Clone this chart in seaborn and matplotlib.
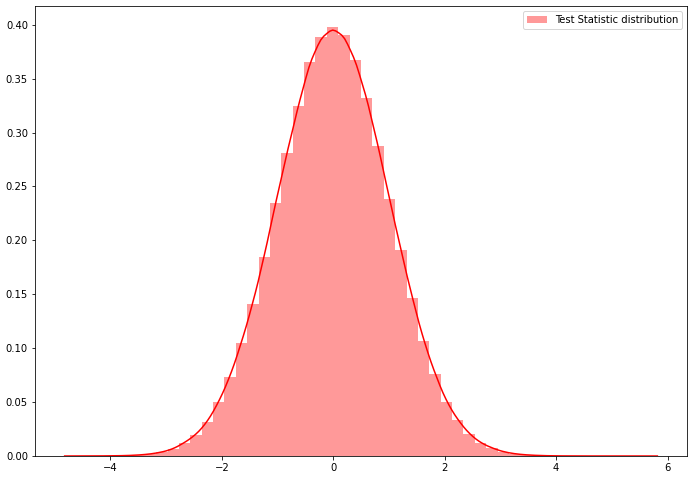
import numpy as np
import pandas as pd
import matplotlib
matplotlib.use("Agg")
import matplotlib.pyplot as plt
import seaborn as sns

# histogram of the test statistic: 50 equal bins between the sample min and max
data_min = -4.61
data_max = 5.605
n_bins = 50

# bar heights (density), left to right
bin_density = [
    0.00002, 0.00004, 0.0001, 0.0002, 0.0004, 0.0009, 0.0018, 0.0035, 0.0064, 0.0124,
    0.0195, 0.0313, 0.0498, 0.0733, 0.1049, 0.1411, 0.1847, 0.2348, 0.2812, 0.3248,
    0.3657, 0.3886, 0.3975, 0.3905, 0.3675, 0.3323, 0.2877, 0.2385, 0.1912, 0.1466,
    0.1067, 0.0761, 0.0501, 0.0334, 0.0204, 0.0121, 0.0074, 0.0038, 0.0020, 0.0010,
    0.0005, 0.0002, 0.0001, 0.00004, 0.00002, 0.00001, 0.000005, 0.000005, 0.000005, 0.000005,
]
label = "Test Statistic distribution"

edges = np.linspace(data_min, data_max, n_bins + 1)
df = pd.DataFrame({"stat": (edges[:-1] + edges[1:]) / 2, "density": bin_density})

fig = plt.figure(figsize=(696 / 72, 480 / 72), dpi=72)
ax = fig.add_axes([35 / 696, 24 / 480, 652 / 696, 450 / 480])

sns.histplot(data=df, x="stat", weights="density", bins=n_bins,
             binrange=(data_min, data_max), stat="count",
             color="red", alpha=0.4, linewidth=0, label=label, ax=ax)
# kde support runs a bit past the sample range, like distplot's line
sns.kdeplot(data=df, x="stat", weights="density", bw_adjust=0.22, cut=1.05,
            color="red", linewidth=1.5, ax=ax)

ax.set_xlabel("")
ax.set_ylabel("")
ax.legend(loc="upper right")

fig.savefig("out.png", dpi=72)
